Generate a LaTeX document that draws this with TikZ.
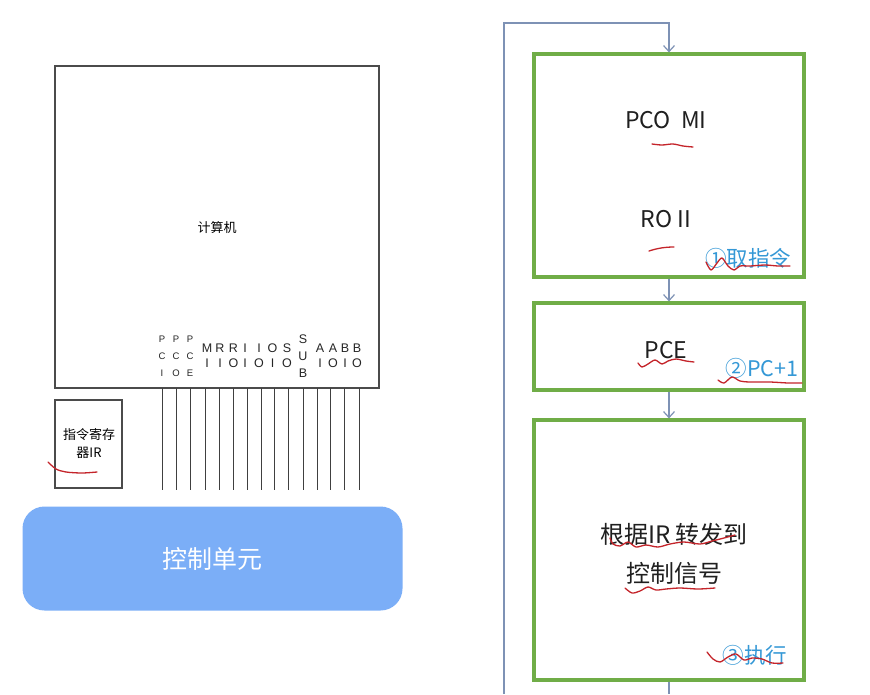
\documentclass[tikz,border=0pt]{standalone}
\usepackage{fontspec}
\newfontfamily\cjk{Noto Sans CJK SC}
\newfontfamily\arial{Liberation Sans}
\usetikzlibrary{arrows.meta}
\definecolor{gbox}{RGB}{112,173,71}
\definecolor{flow}{RGB}{126,146,181}
\definecolor{cu}{RGB}{123,174,247}
\definecolor{stepblue}{RGB}{52,152,214}
\definecolor{pen}{RGB}{196,36,42}
\definecolor{boxgray}{RGB}{75,75,75}
\tikzset{
  graybox/.style={draw=boxgray, line width=1.5pt, inner sep=0pt},
  greenbox/.style={draw=gbox, line width=3.2pt, minimum width=270pt, inner sep=0pt},
  flowline/.style={draw=flow, line width=1.3pt},
  flowarrow/.style={flowline, -{Straight Barb[length=6pt,width=11pt,line width=1.2pt]}},
  sigline/.style={draw=black!75, line width=1pt},
  sig/.style={font=\arial\fontsize{12.5}{15}\selectfont, align=center, inner sep=0pt, text=black!85},
  sigsmall/.style={font=\arial\fontsize{9.5}{17}\selectfont, align=center, inner sep=0pt, text=black!85},
  bigtext/.style={font=\cjk\fontsize{23}{38}\selectfont, text=black!88, inner sep=0pt},
  steplabel/.style={font=\cjk\fontsize{21.5}{24}\selectfont, text=stepblue, inner sep=0pt},
  penline/.style={draw=pen, line width=1.3pt, line cap=round, line join=round}
}
\begin{document}
\begin{tikzpicture}[x=1pt,y=-1pt]
\useasboundingbox[fill=white] (0,0) rectangle (870,694);

% left part
\node[graybox, minimum width=324pt, minimum height=322pt] (comp) at (217,227) {};
\node[font=\cjk\fontsize{13}{15}\selectfont] (comptext) at (217,228) {计算机};

\node[graybox, minimum width=67pt, minimum height=88pt] (ir) at (88.5,444) {};
\node[font=\cjk\fontsize{13}{18}\selectfont, align=center, inner sep=0pt] (irtext) at (89,444) {指令寄存\\器IR};

\node[fill=cu, rounded corners=22pt, minimum width=380pt, minimum height=104pt, inner sep=0pt,
      font=\cjk\fontsize{25}{28}\selectfont, text=white] (cunit) at (212.5,558.5) {控制单元};

% signal lines
\foreach \i/\x in {1/162,2/176,3/190,4/205.5,5/219.5,6/233.5,7/247.5,8/261,9/274.5,10/288.5,11/303,12/317,13/330.5,14/344.5,15/359}{
  \coordinate (st\i) at (\x,388);
  \coordinate (sb\i) at (\x,490);
  \draw[sigline] (st\i) -- (sb\i);
}
% signal labels
\node[sigsmall] (l1) at (162,356) {P\\C\\I};
\node[sigsmall] (l2) at (176,356) {P\\C\\O};
\node[sigsmall] (l3) at (190,356) {P\\C\\E};
\node[sig] (l4) at (207,355.5) {M\\I};
\node[sig] (l5) at (220,355.5) {R\\I};
\node[sig] (l6) at (233.5,355.5) {R\\O};
\node[sig] (l7) at (245,355.5) {I\\I};
\node[sig] (l8) at (259,355.5) {I\\O};
\node[sig] (l9) at (272.5,355.5) {O\\I};
\node[sig] (l10) at (287,355.5) {S\\O};
\node[sig, font=\arial\fontsize{12.5}{17}\selectfont] (l11) at (303,356) {S\\U\\B};
\node[sig] (l12) at (320,355.5) {A\\I};
\node[sig] (l13) at (333,355.5) {A\\O};
\node[sig] (l14) at (345,355.5) {B\\I};
\node[sig] (l15) at (357,355.5) {B\\O};

% right part
\node[greenbox, minimum height=223pt] (b1) at (669,165.5) {};
\node[greenbox, minimum height=87pt] (b2) at (669,346.5) {};
\node[greenbox, minimum height=260pt] (b3) at (669,550) {};

\node[bigtext] (t1) at (666,120) {PCO\hspace{0.45em}MI};
\node[bigtext] (t2) at (666,219) {RO II};
\node[steplabel] (s1) at (748,258) {①取指令};
\node[bigtext] (t3) at (666,350) {PCE};
\node[steplabel] (s2) at (762,368) {②PC+1};
\node[bigtext, align=center, font=\cjk\fontsize{24}{39}\selectfont] (t4) at (674,554) {根据IR 转发到\\控制信号};
\node[steplabel] (s3) at (755,655) {③执行};

% flow connectors
\coordinate (lt) at (504,23);
\coordinate (rt) at (669,23);
\coordinate (lb) at (504,694);
\coordinate (rb) at (669,694);
\draw[flowarrow] (lb) -- (lt) -- (rt) -- (b1.north);
\draw[flowarrow] (b1.south) -- (b2.north);
\draw[flowarrow] (b2.south) -- (b3.north);
\draw[flowline] (b3.south) -- (rb);

% red pen marks
\draw[penline] plot[smooth] coordinates {(48,462) (56,469) (66,472) (82,473) (97,472)};
\draw[penline] plot[smooth] coordinates {(652,144) (662,145) (673,144) (683,146) (693,147)};
\draw[penline] (649,251) .. controls (658,248) and (666,247) .. (674,247);
\draw[penline] plot[smooth] coordinates {(706,262) (711,270) (717,263) (722,258) (728,266) (734,270) (740,266) (750,266) (765,265) (778,266) (790,266)};
\draw[penline] plot[smooth] coordinates {(638,363) (642,367) (648,364) (655,360) (662,364) (668,361) (676,359) (686,361) (694,362)};
\draw[penline] plot[smooth] coordinates {(718,380) (724,383) (732,377) (740,381) (750,382) (770,382) (788,383) (802,383)};
\draw[penline] plot[smooth] coordinates {(610,538) (613,544) (620,546) (628,542) (636,547) (646,545) (658,547) (670,544) (684,542) (700,544) (712,541) (724,538) (735,535)};
\draw[penline] plot[smooth] coordinates {(625,588) (632,593) (640,591) (648,587) (656,590) (666,589) (680,588) (698,589) (715,588)};
\draw[penline] plot[smooth] coordinates {(707,652) (713,659) (720,662) (728,657) (736,654) (744,660) (752,658) (762,659) (772,663) (783,663)};
\end{tikzpicture}
\end{document}
